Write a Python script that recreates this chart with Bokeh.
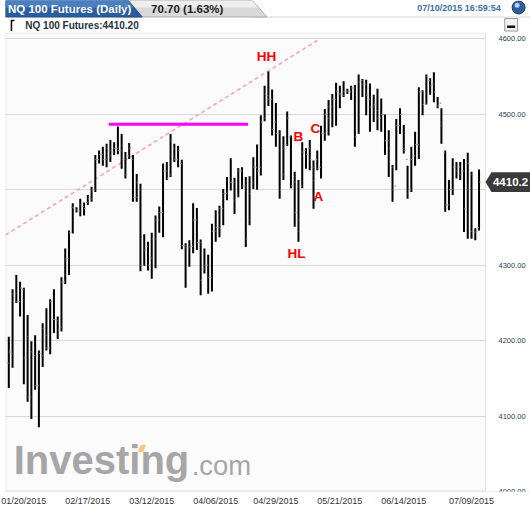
from bokeh.plotting import figure
from bokeh.layouts import column
from bokeh.models import (Range1d, FixedTicker, NumeralTickFormatter, Label,
                          ColumnDataSource, PolyAnnotation, BoxAnnotation)
from bokeh.core.properties import value
from bokeh.embed import file_html
from bokeh.resources import INLINE

# ---------------- data (daily OHLC, NQ 100 futures) ----------------
highs = [4205, 4268, 4287, 4278, 4270, 4234, 4199, 4207, 4187, 4223,
         4243, 4255, 4268, 4232, 4284, 4322, 4346, 4382, 4377, 4388,
         4383, 4393, 4404, 4446, 4452, 4457, 4461, 4466, 4463, 4484,
         4474, 4450, 4462, 4446, 4421, 4408, 4341, 4331, 4343, 4366,
         4378, 4435, 4437, 4474, 4461, 4458, 4440, 4329, 4333, 4382,
         4376, 4334, 4322, 4314, 4355, 4373, 4379, 4401, 4417, 4442,
         4416, 4429, 4430, 4417, 4418, 4443, 4460, 4499, 4538, 4557,
         4533, 4515, 4479, 4471, 4504, 4472, 4424, 4413, 4463, 4455,
         4466, 4439, 4452, 4485, 4507, 4519, 4527, 4542, 4538, 4544,
         4534, 4538, 4539, 4553, 4547, 4546, 4541, 4526, 4534, 4521,
         4500, 4479, 4433, 4494, 4508, 4486, 4432, 4457, 4477, 4536,
         4532, 4553, 4548, 4556, 4523, 4508, 4452, 4413, 4442, 4437,
         4437, 4441, 4449, 4424, 4349, 4427]
lows = [4137, 4164, 4250, 4232, 4142, 4119, 4096, 4135, 4085, 4165,
        4187, 4182, 4210, 4202, 4212, 4275, 4287, 4342, 4370, 4365,
        4366, 4380, 4384, 4397, 4435, 4432, 4430, 4437, 4446, 4447,
        4428, 4415, 4441, 4384, 4384, 4292, 4299, 4293, 4282, 4296,
        4343, 4337, 4413, 4417, 4437, 4430, 4321, 4270, 4298, 4316,
        4320, 4260, 4289, 4262, 4265, 4331, 4337, 4353, 4386, 4399,
        4368, 4390, 4401, 4324, 4353, 4401, 4400, 4419, 4491, 4511,
        4472, 4457, 4388, 4413, 4458, 4402, 4351, 4331, 4402, 4428,
        4426, 4375, 4426, 4415, 4465, 4472, 4483, 4485, 4508, 4523,
        4527, 4519, 4457, 4474, 4523, 4499, 4477, 4490, 4479, 4477,
        4446, 4417, 4384, 4426, 4474, 4448, 4388, 4397, 4432, 4441,
        4499, 4513, 4526, 4516, 4508, 4461, 4371, 4373, 4393, 4415,
        4413, 4344, 4335, 4335, 4333, 4346]
opens = [4170, 4183, 4262, 4252, 4268, 4205, 4125, 4180, 4140, 4180,
         4207, 4190, 4228, 4227, 4218, 4278, 4309, 4377, 4374, 4372,
         4378, 4383, 4388, 4400, 4440, 4447, 4440, 4452, 4450, 4455,
         4452, 4440, 4445, 4440, 4390, 4400, 4300, 4325, 4310, 4335,
         4360, 4370, 4425, 4420, 4455, 4440, 4435, 4326, 4323, 4325,
         4360, 4330, 4295, 4300, 4284, 4345, 4350, 4375, 4395, 4410,
         4410, 4393, 4425, 4405, 4360, 4410, 4430, 4430, 4495, 4525,
         4520, 4490, 4475, 4420, 4460, 4470, 4410, 4360, 4405, 4452,
         4455, 4430, 4440, 4430, 4475, 4495, 4510, 4520, 4527, 4525,
         4530, 4530, 4535, 4475, 4545, 4540, 4520, 4510, 4505, 4495,
         4500, 4465, 4430, 4405, 4485, 4455, 4440, 4400, 4445, 4460,
         4530, 4515, 4545, 4540, 4510, 4515, 4450, 4380, 4400, 4430,
         4430, 4425, 4400, 4420, 4343, 4350]
closes = [4185, 4262, 4252, 4270, 4177, 4125, 4185, 4140, 4183, 4216,
          4190, 4252, 4228, 4214, 4278, 4308, 4343, 4376, 4372, 4380,
          4375, 4388, 4400, 4440, 4447, 4440, 4455, 4445, 4455, 4452,
          4440, 4420, 4455, 4390, 4410, 4300, 4320, 4300, 4335, 4360,
          4370, 4425, 4415, 4465, 4440, 4452, 4326, 4323, 4325, 4360,
          4330, 4280, 4300, 4284, 4345, 4350, 4375, 4395, 4397, 4410,
          4385, 4425, 4405, 4335, 4395, 4430, 4425, 4490, 4527, 4520,
          4480, 4475, 4400, 4455, 4495, 4405, 4370, 4345, 4450, 4447,
          4440, 4412, 4428, 4475, 4500, 4510, 4520, 4530, 4527, 4530,
          4530, 4535, 4470, 4543, 4540, 4525, 4510, 4513, 4495, 4500,
          4465, 4455, 4400, 4485, 4500, 4452, 4395, 4440, 4460, 4530,
          4513, 4550, 4538, 4530, 4512, 4485, 4380, 4400, 4430, 4425,
          4420, 4375, 4435, 4345, 4345, 4410.2]

date_labels = ["01/20/2015", "02/17/2015", "03/12/2015", "04/06/2015",
               "04/29/2015", "05/21/2015", "06/14/2015", "07/09/2015"]
date_label_bars = [4, 21, 38, 55, 71, 88, 105, 123]
price_ticks = [4000, 4100, 4200, 4300, 4400, 4500, 4600]

instrument = "NQ 100 Futures"
change_text = "70.70 (1.63%)"
timestamp = "07/10/2015 16:59:54"
last_price = 4410.20

# chart markup drawn by the analyst
resistance_level = 4487
resistance_bars = [26.6, 63.6]
trend_bars = [-0.9, 82.0]
trend_prices = [4340, 4598]
mark_texts = ["HH", "B", "C", "A", "HL"]
mark_bars = [68.5, 77.0, 81.5, 82.3, 76.5]
mark_prices = [4577, 4471, 4481, 4391, 4316]

FONT = "Liberation Sans"
W = 530

# ---------------- header strip ----------------
hdr = figure(width=W, height=32, x_range=Range1d(0, 530), y_range=Range1d(32, 0),
             output_backend="svg", toolbar_location=None, tools="",
             x_axis_location=None, y_axis_location=None, min_border=0)
hdr.grid.visible = False
hdr.outline_line_color = None
hdr.background_fill_color = "white"
hdr.border_fill_color = "white"

hdr.segment(x0=[250], y0=[16.5], x1=[530], y1=[16.5], line_color="#d3d7dc", line_width=1)
# grey tab
hdr.patch([118, 249, 264, 118], [0, 0, 16.5, 16.5], fill_color="#d9d9d9", line_color="#a9a9a9")
hdr.patch([118, 249, 255, 118], [0.5, 0.5, 7, 7], fill_color="#eeeeee", line_color=None)
# blue tab
hdr.patch([0, 124, 138, 0], [0, 0, 16.5, 16.5], fill_color="#2a5d9f", line_color="#1f4c85")
hdr.patch([0, 124, 129.5, 0], [0, 0, 7, 7], fill_color="#4a80c1", line_color=None)

hdr.text(x=[2.5], y=[8.5], text=[instrument + " (Daily)"], text_font=value(FONT),
         text_font_style="bold", text_font_size="11.5px", text_color="white",
         text_baseline="middle", text_align="left")
hdr.text(x=[147], y=[8.5], text=[change_text], text_font=value(FONT),
         text_font_style="bold", text_font_size="11.5px", text_color="#1a1a1a",
         text_baseline="middle", text_align="left")
hdr.text(x=[500], y=[7], text=[timestamp], text_font=value(FONT),
         text_font_style="bold", text_font_size="9px", text_color="#3d6fa6",
         text_baseline="middle", text_align="right")
hdr.scatter(x=[518], y=[7], size=13, fill_color="#2d5f9f", line_color="#1c3e6e")
hdr.scatter(x=[516.5], y=[4.8], size=5, fill_color="#b8d0ee", line_color=None)

# second row
hdr.segment(x0=[6], y0=[19.5], x1=[6], y1=[30.5], line_color="black", line_width=1.5)
hdr.segment(x0=[6], y0=[20], x1=[9], y1=[20], line_color="black", line_width=1.5)
hdr.text(x=[20], y=[24.5], text=[instrument + ":" + f"{last_price:.2f}"],
         text_font=value(FONT), text_font_style="bold", text_font_size="10px",
         text_color="#1d3441", text_baseline="middle", text_align="left")
hdr.quad(left=[504], right=[517], top=[18], bottom=[30.5], fill_color="#f2f2f2",
         line_color="#9a9a9a")
hdr.quad(left=[506.5], right=[514.5], top=[25], bottom=[27.5], fill_color="#111111",
         line_color=None)

# ---------------- main chart ----------------
X_LEFT, X_EDGE, X_RIGHT = -0.877, 126.71, 138.68   # plot edge = price-axis line
Y_BOT, Y_TOP = 3999.9, 4608.6
p = figure(width=W, height=480, x_range=Range1d(X_LEFT, X_RIGHT),
           y_range=Range1d(Y_BOT, Y_TOP), output_backend="svg",
           toolbar_location=None, tools="", y_axis_location="right",
           min_border_left=5, min_border_right=0, min_border_top=0,
           min_border_bottom=21)
p.background_fill_color = "#fbfbfb"
p.border_fill_color = "white"
p.outline_line_color = None
p.xgrid.visible = False
p.ygrid.ticker = FixedTicker(ticks=price_ticks)
p.ygrid.grid_line_color = "#d9d9d9"

# white price-axis strip to the right of the plot edge (covers grid)
p.add_layout(BoxAnnotation(left=X_EDGE, fill_color="white", fill_alpha=1.0,
                           line_color=None, level="underlay"))
# plot border
p.add_layout(BoxAnnotation(left=X_LEFT + 0.12, right=X_EDGE, top=Y_TOP - 0.6,
                           bottom=Y_BOT + 0.8, fill_alpha=0.0,
                           line_color="#a8a8a8", line_width=1, level="underlay"))

p.yaxis.fixed_location = X_EDGE
p.yaxis.ticker = FixedTicker(ticks=price_ticks)
p.yaxis.formatter = NumeralTickFormatter(format="0.00")
p.yaxis.axis_line_color = None
p.yaxis.major_tick_line_color = None
p.yaxis.minor_tick_line_color = None
p.yaxis.major_tick_out = 0
p.yaxis.major_tick_in = 0
p.yaxis.minor_tick_out = 0
p.yaxis.major_label_text_font = FONT
p.yaxis.major_label_text_font_size = "7.5px"
p.yaxis.major_label_text_color = "#24404f"
p.yaxis.major_label_standoff = 13

p.xaxis.ticker = FixedTicker(ticks=date_label_bars)
p.xaxis.major_label_overrides = dict(zip(date_label_bars, date_labels))
p.xaxis.axis_line_color = None
p.xaxis.major_tick_line_color = None
p.xaxis.minor_tick_line_color = None
p.xaxis.major_tick_out = 0
p.xaxis.major_tick_in = 0
p.xaxis.minor_tick_out = 0
p.xaxis.major_label_text_font = FONT
p.xaxis.major_label_text_font_size = "9px"
p.xaxis.major_label_text_color = "#333333"
p.xaxis.major_label_standoff = 4

# watermark
p.text(x=[1.3], y=[4041.7], text=["Investing"], text_font=value(FONT),
       text_font_style="bold", text_font_size="40px", text_color="#a6a6a6",
       text_baseline="middle", text_align="left")
p.text(x=[48.6], y=[4034.5], text=[".com"], text_font=value(FONT),
       text_font_size="27.5px", text_color="#a6a6a6",
       text_baseline="middle", text_align="left")
p.patch([34.2, 35.8, 36.5, 35.1], [4052.3, 4052.3, 4061.6, 4061.6],
        fill_color="#f6c87e", line_color=None)

idx = list(range(len(highs)))
src = ColumnDataSource(dict(
    i=idx, high=highs, low=lows, open=opens, close=closes,
    il=[k - 0.45 for k in idx], ir=[k + 0.45 for k in idx]))

p.line(trend_bars, trend_prices, line_color="#f5a3a3", line_dash="4 3", line_width=1.5)
p.line(resistance_bars, [resistance_level, resistance_level], line_color="#ff00ff",
       line_width=3)

p.segment("i", "low", "i", "high", source=src, line_color="black", line_width=2)
p.segment("il", "open", "i", "open", source=src, line_color="#8a8a8a", line_width=1)
p.segment("i", "close", "ir", "close", source=src, line_color="#8a8a8a", line_width=1)

p.text(x=mark_bars, y=mark_prices, text=mark_texts, text_font=value(FONT),
       text_font_style="bold", text_font_size="13.5px", text_color="#ff0000",
       text_align="center", text_baseline="middle")

# last-price flag on the price axis
p.add_layout(PolyAnnotation(
    xs=[X_EDGE, X_EDGE + 1.6, X_RIGHT + 2, X_RIGHT + 2, X_EDGE + 1.6],
    ys=[last_price, last_price + 13.2, last_price + 13.2,
        last_price - 13.2, last_price - 13.2],
    fill_color="#3a3a3a", fill_alpha=1.0, line_color=None))
p.add_layout(Label(x=128.7, y=last_price, text=f"{last_price:.1f}", text_color="white",
                   text_font=FONT, text_font_style="bold", text_font_size="11.5px",
                   text_baseline="middle", text_align="left"))

layout = column(hdr, p)
open("out.html", "w").write(file_html(layout, INLINE))
